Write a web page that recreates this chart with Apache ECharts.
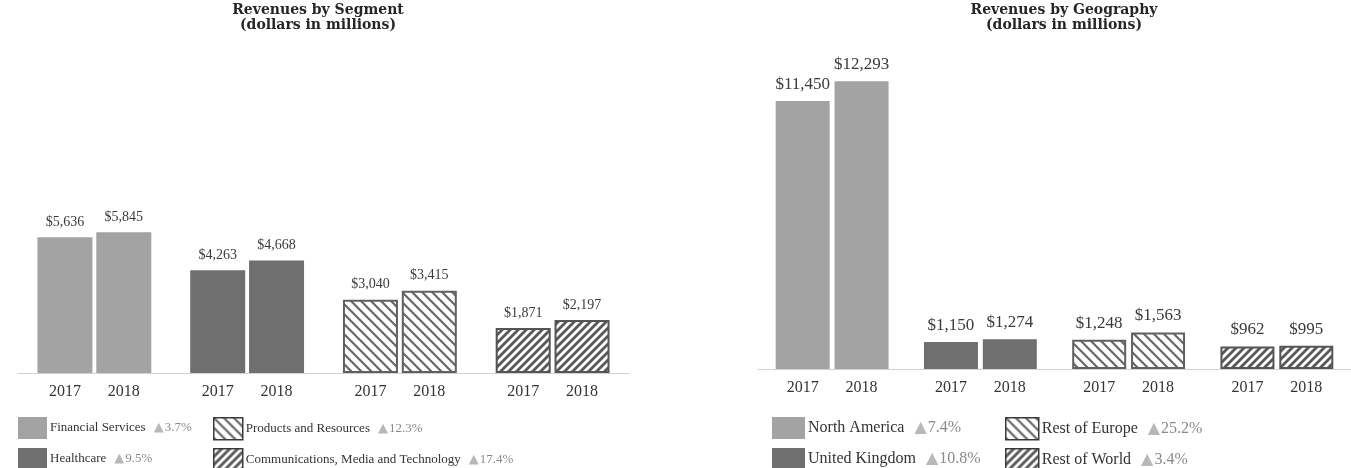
<!DOCTYPE html>
<html><head><meta charset="utf-8">
<script src="https://cdn.jsdelivr.net/npm/echarts@6/dist/echarts.min.js"></script>
<style>html,body{margin:0;padding:0;background:#fff}#c{width:1351px;height:468px}</style>
</head><body><div id="c"></div>
<script>
// ---------- data ----------
const years = ['2017', '2018'];
const segCategories = ['Financial Services', 'Healthcare', 'Products and Resources', 'Communications, Media and Technology'];
const seg2017 = [5636, 4263, 3040, 1871];
const seg2018 = [5845, 4668, 3415, 2197];
const segGrowth = ['3.7%', '9.5%', '12.3%', '17.4%'];
const geoCategories = ['North America', 'United Kingdom', 'Rest of Europe', 'Rest of World'];
const geo2017 = [11450, 1150, 1248, 962];
const geo2018 = [12293, 1274, 1563, 995];
const geoGrowth = ['7.4%', '10.8%', '25.2%', '3.4%'];
const titleTexts = ['Revenues by Segment\n(dollars in millions)', 'Revenues by Geography\n(dollars in millions)'];

// ---------- styles ----------
const FONT = '"Liberation Serif", "Times New Roman", serif';
const TITLE_FONT = '"DejaVu Serif", "Liberation Serif", serif';
function hatch(dir, size, lw, color) {
  const s = size, c = document.createElement('canvas');
  c.width = s; c.height = s;
  const ctx = c.getContext('2d');
  ctx.fillStyle = '#fff'; ctx.fillRect(0, 0, s, s);
  ctx.strokeStyle = color; ctx.lineWidth = lw; ctx.lineCap = 'square';
  ctx.beginPath();
  for (const k of [-s, 0, s]) {
    if (dir === 'back') { ctx.moveTo(k, 0); ctx.lineTo(k + s, s); }
    else { ctx.moveTo(k, s); ctx.lineTo(k + s, 0); }
  }
  ctx.stroke();
  return c;
}
const catStyles = [
  { color: '#a3a3a3', borderWidth: 0 },
  { color: '#6f6f6f', borderWidth: 0 },
  { color: { image: hatch('back', 10, 2.2, '#686868'), repeat: 'repeat' }, borderColor: '#606060', borderWidth: 2 },
  { color: { image: hatch('fwd', 8, 2.8, '#585858'), repeat: 'repeat' }, borderColor: '#555555', borderWidth: 2 }
];

const charts = [
  { cats: segCategories, v: [seg2017, seg2018], growth: segGrowth, title: titleTexts[0],
    gridLeft: 18, gridWidth: 611, gridTop: 60, gridHeight: 313, yMax: 13000,
    barWidth: 55, barGap: '7%', valueFont: 14, legendFont: 13, titleX: 318, tGap: 8,
    iconW: 29, legendPos: [[18, 417], [18, 448], [213, 417], [213, 448]] },
  { cats: geoCategories, v: [geo2017, geo2018], growth: geoGrowth, title: titleTexts[1],
    gridLeft: 758, gridWidth: 611, gridTop: 60, gridHeight: 309, yMax: 13200,
    barWidth: 54, barGap: '9%', valueFont: 17, legendFont: 16, titleX: 1064, tGap: 10,
    iconW: 33, legendPos: [[772, 417], [772, 448], [1005, 417], [1005, 448]] }
];

const option = { animation: false, backgroundColor: '#fff', title: [], grid: [], xAxis: [], yAxis: [], series: [], legend: [] };

charts.forEach((ch, gi) => {
  option.title.push({
    text: ch.title, left: ch.titleX, top: 3, textAlign: 'center', padding: 0,
    textStyle: { fontFamily: TITLE_FONT, fontWeight: 'bold', fontSize: 14, lineHeight: 15, color: '#262626' }
  });
  option.grid.push({ left: ch.gridLeft, top: ch.gridTop, width: ch.gridWidth, height: ch.gridHeight });
  option.xAxis.push({
    type: 'category', gridIndex: gi, data: ch.cats,
    axisLine: { show: true, lineStyle: { color: '#d2d2d2', width: 1 } },
    axisTick: { show: false }, axisLabel: { show: false }, splitLine: { show: false }
  });
  option.yAxis.push({ type: 'value', gridIndex: gi, min: 0, max: ch.yMax, show: false, splitLine: { show: false } });

  years.forEach((yr, yi) => {
    const stackId = 'c' + gi + 'y' + yi;
    // year label anchor (zero-height bar sitting on the axis)
    option.series.push({
      type: 'bar', name: 'yearlabel' + gi + yi, stack: stackId, xAxisIndex: gi, yAxisIndex: gi,
      barWidth: ch.barWidth, barGap: ch.barGap, silent: true,
      data: ch.cats.map(() => 0),
      itemStyle: { color: 'rgba(0,0,0,0)' },
      label: { show: true, position: 'bottom', distance: 11, formatter: () => yr,
        fontFamily: FONT, fontSize: 16, color: '#333' }
    });
    option.series.push({
      type: 'bar', name: yr, stack: stackId, xAxisIndex: gi, yAxisIndex: gi,
      barWidth: ch.barWidth, barGap: ch.barGap,
      data: ch.v[yi].map((val, i) => ({ value: val, itemStyle: catStyles[i] })),
      label: { show: true, position: 'top', distance: 8,
        formatter: p => '$' + p.value.toLocaleString('en-US'),
        fontFamily: FONT, fontSize: ch.valueFont, color: '#3a3a3a' }
    });
  });

  ch.cats.forEach((name, i) => {
    option.series.push({ type: 'scatter', name: name, xAxisIndex: gi, yAxisIndex: gi, data: [], itemStyle: { opacity: 1 } });
    const iconStyle = Object.assign({ opacity: 1 }, catStyles[i], catStyles[i].borderWidth ? { borderColor: '#3a3a3a', borderWidth: 1.5 } : {});
    option.legend.push({
      left: ch.legendPos[i][0], top: ch.legendPos[i][1], padding: 0, selectedMode: false,
      itemWidth: ch.iconW, itemHeight: 22, itemGap: 0,
      data: [{ name: name, icon: 'rect', itemStyle: iconStyle }],
      formatter: n => n + '{t|▲}{p|' + ch.growth[i] + '}',
      textStyle: {
        fontFamily: FONT, fontSize: ch.legendFont, color: '#333', padding: [0, 0, 0, -2],
        rich: {
          t: { fontFamily: '"DejaVu Sans", sans-serif', fontSize: ch.legendFont, color: '#b8b8b8', padding: [0, 1, 0, ch.tGap] },
          p: { fontFamily: FONT, fontSize: ch.legendFont, color: '#8a8a8a' }
        }
      }
    });
  });
});

const chart = echarts.init(document.getElementById('c'), null, { renderer: 'canvas' });
chart.setOption(option);
</script>
</body></html>
